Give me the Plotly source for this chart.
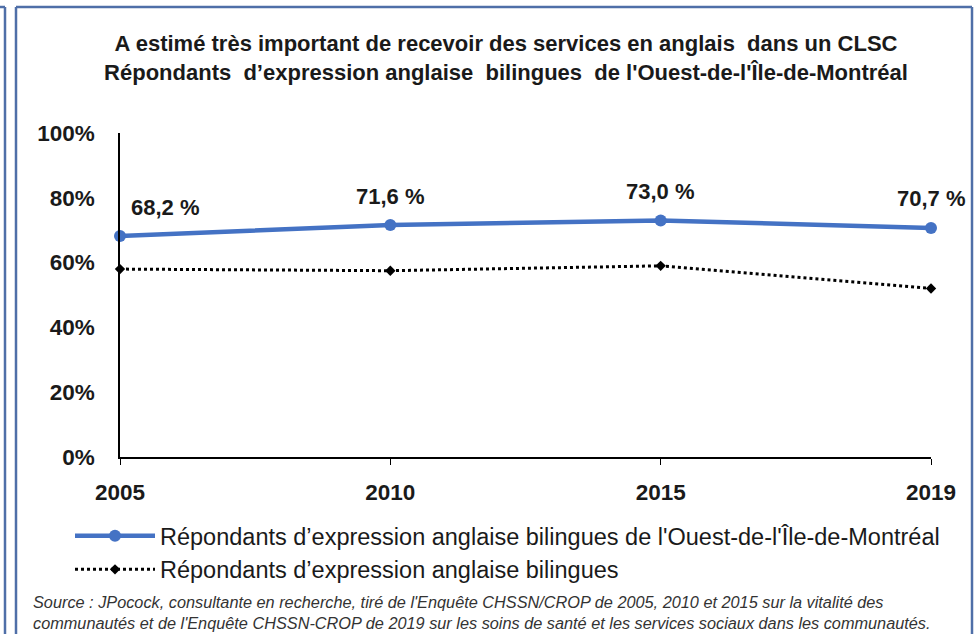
import plotly.graph_objects as go

# --- data ---
years = ["2005", "2010", "2015", "2019"]
ouest_ile = [68.2, 71.6, 73.0, 70.7]
bilingues = [58.0, 57.5, 59.0, 52.0]
y_ticks = [0, 20, 40, 60, 80, 100]
y_tick_labels = ["0%", "20%", "40%", "60%", "80%", "100%"]

name_ouest = "Répondants d’expression anglaise bilingues de l'Ouest-de-l'Île-de-Montréal"
name_bil = "Répondants d’expression anglaise bilingues"
title_lines = [
    "A estimé très important de recevoir des services en anglais  dans un CLSC",
    "Répondants  d’expression anglaise  bilingues  de l'Ouest-de-l'Île-de-Montréal",
]
source_lines = [
    "Source : JPocock, consultante en recherche, tiré de l'Enquête CHSSN/CROP de 2005, 2010 et 2015 sur la vitalité des",
    "communautés et de l'Enquête CHSSN-CROP de 2019 sur les soins de santé et les services sociaux dans les communautés.",
]

FONT = "Liberation Sans, Arial, sans-serif"
BLUE = "#4472C4"
FRAME = "#4F6FA8"
TXT = "#1a1a1a"

W, H = 979, 634
L, R, T, B = 120, 48, 133, 177
pw, ph = W - L - R, H - T - B


def px_x(px):
    return (px - L) / pw


def px_y(py):
    return (H - B - py) / ph


fig = go.Figure()

fig.add_trace(
    go.Scatter(
        x=list(range(len(years))),
        y=ouest_ile,
        name=name_ouest,
        mode="lines+markers",
        line=dict(color=BLUE, width=4.5),
        marker=dict(color=BLUE, size=12, symbol="circle"),
        cliponaxis=False,
    )
)
fig.add_trace(
    go.Scatter(
        x=list(range(len(years))),
        y=bilingues,
        name=name_bil,
        mode="lines+markers",
        line=dict(color="black", width=3, dash="dot"),
        marker=dict(color="black", size=8, symbol="diamond"),
        cliponaxis=False,
    )
)

# data labels, French decimal comma
for i, v in enumerate(ouest_ile):
    fig.add_annotation(
        x=i,
        y=v,
        text=f"<b>{v:.1f} %</b>".replace(".", ","),
        showarrow=False,
        xanchor="center",
        yanchor="middle",
        xshift=45 if i == 0 else 0,
        yshift=29,
        font=dict(size=22, color=TXT, family=FONT),
    )

# source note
fig.add_annotation(
    xref="paper",
    yref="paper",
    x=px_x(31),
    y=px_y(612),
    xanchor="left",
    yanchor="middle",
    align="left",
    showarrow=False,
    text="<i>" + "<br>".join(source_lines) + "</i>",
    font=dict(size=16.3, color="#333333", family=FONT),
)

# outer frames (the chart sits in a bordered box)
frame = dict(color=FRAME, width=2.5)
fig.add_shape(type="line", xref="paper", yref="paper",
              x0=px_x(5), x1=px_x(5), y0=px_y(7), y1=px_y(640), line=frame)
fig.add_shape(type="line", xref="paper", yref="paper",
              x0=px_x(-5), x1=px_x(5), y0=px_y(7), y1=px_y(7), line=frame)
fig.add_shape(type="line", xref="paper", yref="paper",
              x0=px_x(16), x1=px_x(16), y0=px_y(7), y1=px_y(640), line=frame)
fig.add_shape(type="line", xref="paper", yref="paper",
              x0=px_x(972), x1=px_x(972), y0=px_y(7), y1=px_y(640), line=frame)
fig.add_shape(type="line", xref="paper", yref="paper",
              x0=px_x(16), x1=px_x(972), y0=px_y(7), y1=px_y(7), line=frame)

fig.update_layout(
    width=W,
    height=H,
    margin=dict(l=L, r=R, t=T, b=B),
    paper_bgcolor="white",
    plot_bgcolor="white",
    font=dict(family=FONT, color=TXT),
    title=dict(
        text="<b>" + "<br>".join(title_lines) + "</b>",
        x=px_x(506),
        xanchor="center",
        xref="paper",
        yref="container",
        y=1 - 51 / H,
        yanchor="middle",
        font=dict(size=22, family=FONT, color=TXT),
    ),
    showlegend=True,
    legend=dict(
        x=px_x(70),
        y=px_y(514),
        xanchor="left",
        yanchor="top",
        font=dict(size=23.5, family=FONT, color=TXT),
        bgcolor="rgba(0,0,0,0)",
        tracegroupgap=0,
        itemwidth=80,
    ),
)

fig.update_xaxes(
    range=[0, len(years) - 1],
    tickvals=list(range(len(years))),
    ticktext=[f"<b>{y}</b>" for y in years],
    showgrid=False,
    showline=True,
    linecolor="black",
    linewidth=1.5,
    ticks="outside",
    ticklen=6,
    tickcolor="black",
    tickfont=dict(size=22.5, family=FONT, color=TXT),
    ticklabelstandoff=8,
    zeroline=False,
)
fig.update_yaxes(
    range=[0, 100],
    tickvals=y_ticks,
    ticktext=[f"<b>{t}</b>" for t in y_tick_labels],
    showgrid=False,
    showline=True,
    linecolor="black",
    linewidth=1.5,
    ticks="",
    ticklabelstandoff=19,
    tickfont=dict(size=22.5, family=FONT, color=TXT),
    zeroline=False,
)

# the page has a default 8px body margin; drop it so the figure fills the window
fig.write_html(
    "out.html",
    config={"displayModeBar": False},
    post_script="document.body.style.margin='0';",
)
